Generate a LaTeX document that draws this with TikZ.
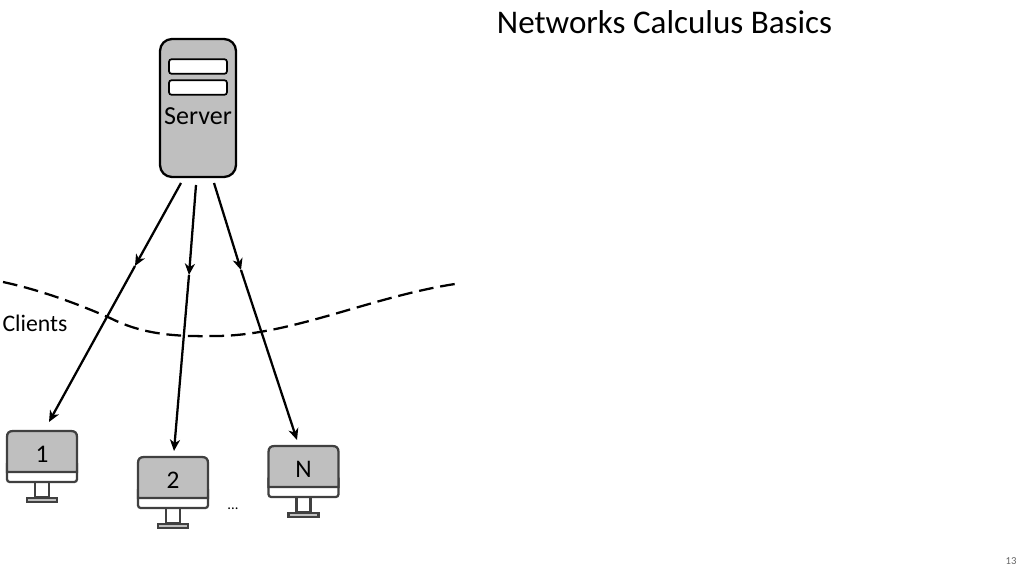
\documentclass[tikz,border=0pt]{standalone}
\usepackage{fontspec}
\setmainfont{Carlito}
\usetikzlibrary{arrows.meta}
\definecolor{boxgrey}{RGB}{191,191,191}
\definecolor{mongrey}{RGB}{64,64,64}
\tikzset{
  x=0.75pt,y=-0.75pt,
  flow/.style={line width=1.7pt,black,-{Stealth[length=8.5pt,width=7.5pt,inset=2.5pt]}},
  servercase/.style={draw=black,fill=boxgrey,line width=1.7pt,rounded corners=9pt},
  slot/.style={draw=black,fill=white,line width=1.3pt,rounded corners=2pt},
  screen/.style={draw=mongrey,fill=boxgrey,line width=1.7pt},
  monpart/.style={draw=mongrey,fill=white,line width=1.7pt},
  basepart/.style={draw=mongrey,fill=boxgrey,line width=1.7pt},
  boundary/.style={line width=1.7pt,black,dash pattern=on 11pt off 5.14pt},
  lab/.style={font=\fontsize{17.8}{20}\selectfont,inner sep=0pt,text=black},
  numlab/.style={font=\fontsize{19}{20}\selectfont,inner sep=0pt,text=black},
}
\newcommand{\monitorat}[3]{% x, y, label
  \begin{scope}[shift={(#1,#2)}]
    \draw[monpart] (28,51) rectangle (42,66);
    \draw[basepart] (20,67) rectangle (50,71);
    \draw[monpart,rounded corners=2pt] (0,30) rectangle (70,51);
    \draw[screen] (0,41) -- (0,6) .. controls (0,2) and (2,0) .. (6,0) -- (64,0) .. controls (68,0) and (70,2) .. (70,6) -- (70,41) -- cycle;
    \node[numlab] at (35,23) {#3};
  \end{scope}}
\begin{document}
\begin{tikzpicture}
\useasboundingbox (0,0) rectangle (1024,574);
\node[font=\fontsize{24.8}{26}\selectfont,inner sep=0pt,text=black] (title) at (664.5,22.5) {Networks Calculus Basics};
% server
\draw[servercase] (160,39) rectangle (236,177);
\node[slot,minimum width=43.5pt,minimum height=11pt,inner sep=0pt] (slota) at (198,66.5) {};
\node[slot,minimum width=43.5pt,minimum height=11pt,inner sep=0pt] (slotb) at (198,87.5) {};
\node[font=\fontsize{19.5}{21}\selectfont,inner sep=0pt,text=black] (server) at (198,116.5) {Server};
% clients
\monitorat{7}{431}{1}
\monitorat{138}{457}{2}
\monitorat{268.5}{446}{N}
\node[lab] (clients) at (35,323) {Clients};
\node[font=\fontsize{11}{12}\selectfont,inner sep=0pt] (dots) at (233,509) {...};
\node[font=\fontsize{8}{10}\selectfont,inner sep=0pt,text=black!60] (page) at (1011,561) {13};
% boundary
\draw[boundary] (3,282) .. controls (45,291) and (85,307) .. (110,318)
  .. controls (140,333) and (170,337) .. (215,336)
  .. controls (290,336) and (370,297) .. (455,284);
% connectors
\coordinate (s1) at (181,183); \coordinate (m1) at (135,266); \coordinate (e1) at (49,422);
\coordinate (s2) at (196,185); \coordinate (m2) at (189,275); \coordinate (e2) at (174,451);
\coordinate (s3) at (214,183); \coordinate (m3) at (241,270); \coordinate (e3) at (297,440);
\draw[flow] (s1) -- (m1); \draw[flow] (m1) -- (e1);
\draw[flow] (s2) -- (m2); \draw[flow] (m2) -- (e2);
\draw[flow] (s3) -- (m3); \draw[flow] (m3) -- (e3);
\end{tikzpicture}
\end{document}
